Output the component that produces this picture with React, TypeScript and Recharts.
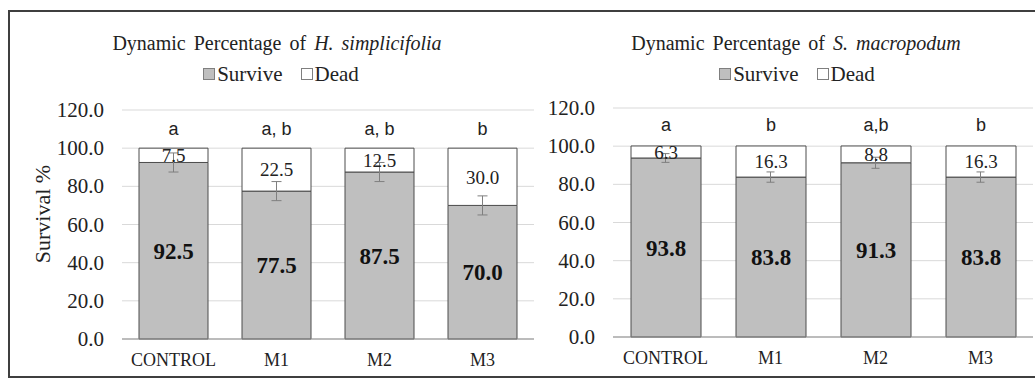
import type { ReactNode } from "react";
import {
  ComposedChart,
  Bar,
  Line,
  XAxis,
  YAxis,
  CartesianGrid,
  LabelList,
  ErrorBar,
} from "recharts";

const treatments = ["CONTROL", "M1", "M2", "M3"];
const yTicks = [0, 20, 40, 60, 80, 100, 120];

// H. simplicifolia
const surviveHs = [92.5, 77.5, 87.5, 70.0];
const deadHs = [7.5, 22.5, 12.5, 30.0];
const errHs = [5.0, 5.0, 5.0, 5.0];
const lettersHs = ["a", "a, b", "a, b", "b"];

// S. macropodum
const surviveSm = [93.8, 83.8, 91.3, 83.8];
const deadSm = [6.3, 16.3, 8.8, 16.3];
const errSm = [2.3, 2.7, 2.9, 2.7];
const lettersSm = ["a", "b", "a,b", "b"];

const SERIF = '"Liberation Serif", "Times New Roman", serif';
const SANS = '"Liberation Sans", Arial, sans-serif';
const GREY = "#bfbfbf";
const EDGE = "#4d4d4d";
const INK = "#222";

const buildRows = (survive: number[], dead: number[], err: number[], letters: string[]) =>
  treatments.map((t, i) => ({
    name: t,
    survive: survive[i],
    dead: dead[i],
    err: err[i],
    letter: letters[i],
  }));

const rowsHs = buildRows(surviveHs, deadHs, errHs, lettersHs);
const rowsSm = buildRows(surviveSm, deadSm, errSm, lettersSm);

const fmt = (v: number) => Number(v).toFixed(1);

const ValueTick = (props: any) => (
  <text
    x={props.x}
    y={props.y}
    textAnchor="end"
    dominantBaseline="central"
    fontFamily={SERIF}
    fontSize={21}
    fill={INK}
  >
    {fmt(props.payload.value)}
  </text>
);

const NameTick = (props: any) => (
  <text
    x={props.x}
    y={props.y}
    textAnchor="middle"
    dominantBaseline="hanging"
    fontFamily={SERIF}
    fontSize={18}
    fill={INK}
  >
    {props.payload.value}
  </text>
);

// rotated axis title, placed in the left gutter
const SurvivalLabel = () => {
  const cx = 42;
  const cy = 214;
  return (
    <text
      x={cx}
      y={cy}
      transform={`rotate(-90 ${cx} ${cy})`}
      textAnchor="middle"
      dominantBaseline="central"
      fontFamily={SERIF}
      fontSize={22}
      fill={INK}
    >
      Survival %
    </text>
  );
};

const Swatch = ({ color }: { color: string }) => (
  <span
    style={{
      display: "inline-block",
      width: 10,
      height: 10,
      background: color,
      border: "1px solid #7f7f7f",
      marginRight: 2,
    }}
  />
);

const LegendRow = () => (
  <div
    style={{
      display: "flex",
      justifyContent: "center",
      alignItems: "center",
      fontFamily: SERIF,
      fontSize: 21,
      color: INK,
      lineHeight: "24px",
    }}
  >
    <span style={{ display: "flex", alignItems: "center", marginRight: 18 }}>
      <Swatch color={GREY} />
      Survive
    </span>
    <span style={{ display: "flex", alignItems: "center" }}>
      <Swatch color="#fff" />
      Dead
    </span>
  </div>
);

interface PanelProps {
  rows: ReturnType<typeof buildRows>;
  title: ReactNode;
  left: number;
  width: number;
  titleCenter: number;
  legendCenter: number;
  axisWidth: number;
  top: number;
  bottom: number;
  right: number;
  barSize: number;
  cap: number;
  letterOffset: number;
  showYLabel?: boolean;
}

function Panel({
  rows,
  title,
  left,
  width,
  titleCenter,
  legendCenter,
  axisWidth,
  top,
  bottom,
  right,
  barSize,
  cap,
  letterOffset,
  showYLabel,
}: PanelProps) {
  return (
    <>
      <div
        style={{
          position: "absolute",
          left: titleCenter - 250,
          width: 500,
          top: 30,
          textAlign: "center",
          fontFamily: SERIF,
          fontSize: 20,
          lineHeight: "26px",
          color: INK,
          wordSpacing: 3,
        }}
      >
        {title}
      </div>
      <div style={{ position: "absolute", left: legendCenter - 250, width: 500, top: 62 }}>
        <LegendRow />
      </div>
      <div style={{ position: "absolute", left, top: 0 }}>
        <ComposedChart
          width={width}
          height={379}
          data={rows}
          margin={{ top, right, bottom: 0, left: 0 }}
          barSize={barSize}
        >
          <CartesianGrid vertical={false} stroke="#d9d9d9" />
          <XAxis
            dataKey="name"
            height={bottom}
            axisLine={{ stroke: "#8c8c8c" }}
            tickLine={false}
            tickSize={6}
            tickMargin={8}
            tick={<NameTick />}
          />
          <YAxis
            width={axisWidth}
            domain={[0, 120]}
            ticks={yTicks}
            axisLine={false}
            tickLine={false}
            tickSize={6}
            tickMargin={12}
            tick={<ValueTick />}
            label={showYLabel ? { content: <SurvivalLabel /> } : undefined}
          />
          <Bar dataKey="survive" stackId="s" fill={GREY} stroke={EDGE} strokeWidth={1} isAnimationActive={false}>
            <LabelList
              dataKey="survive"
              position="center"
              formatter={fmt}
              style={{ fontFamily: SERIF, fontSize: 23, fontWeight: 700, fill: "#111" }}
            />
          </Bar>
          <Bar dataKey="dead" stackId="s" fill="#fff" stroke={EDGE} strokeWidth={1} isAnimationActive={false}>
            <LabelList
              dataKey="dead"
              position="center"
              formatter={fmt}
              style={{ fontFamily: SERIF, fontSize: 19, fill: INK }}
            />
            <LabelList
              dataKey="letter"
              position="top"
              offset={letterOffset}
              style={{ fontFamily: SANS, fontSize: 18, fill: INK }}
            />
          </Bar>
          {/* invisible line carrying the error bars so they sit above both stacks */}
          <Line
            dataKey="survive"
            stroke="none"
            dot={false}
            activeDot={false}
            legendType="none"
            isAnimationActive={false}
          >
            <ErrorBar dataKey="err" width={cap} stroke="#7f7f7f" strokeWidth={1} direction="y" />
          </Line>
        </ComposedChart>
      </div>
    </>
  );
}

export default function App() {
  return (
    <div style={{ position: "absolute", left: 0, top: 0, width: 1035, height: 379, overflow: "hidden", background: "#fff" }}>
      <div
        style={{
          position: "absolute",
          left: 8,
          top: 10,
          width: 1027,
          height: 368,
          boxSizing: "border-box",
          borderTop: "2px solid #3f3f3f",
          borderLeft: "2px solid #3f3f3f",
          borderBottom: "2px solid #3f3f3f",
        }}
      />
      <Panel
        rows={rowsHs}
        title={
          <>
            Dynamic Percentage of <i>H. simplicifolia</i>
          </>
        }
        left={0}
        width={540}
        titleCenter={277}
        legendCenter={281}
        axisWidth={122}
        top={110}
        bottom={40}
        right={6}
        barSize={69}
        cap={5}
        letterOffset={13}
        showYLabel
      />
      <Panel
        rows={rowsSm}
        title={
          <>
            Dynamic Percentage of <i>S. macropodum</i>
          </>
        }
        left={540}
        width={495}
        titleCenter={796}
        legendCenter={797}
        axisWidth={73}
        top={108}
        bottom={42}
        right={2}
        barSize={70}
        cap={4}
        letterOffset={15}
      />
    </div>
  );
}
